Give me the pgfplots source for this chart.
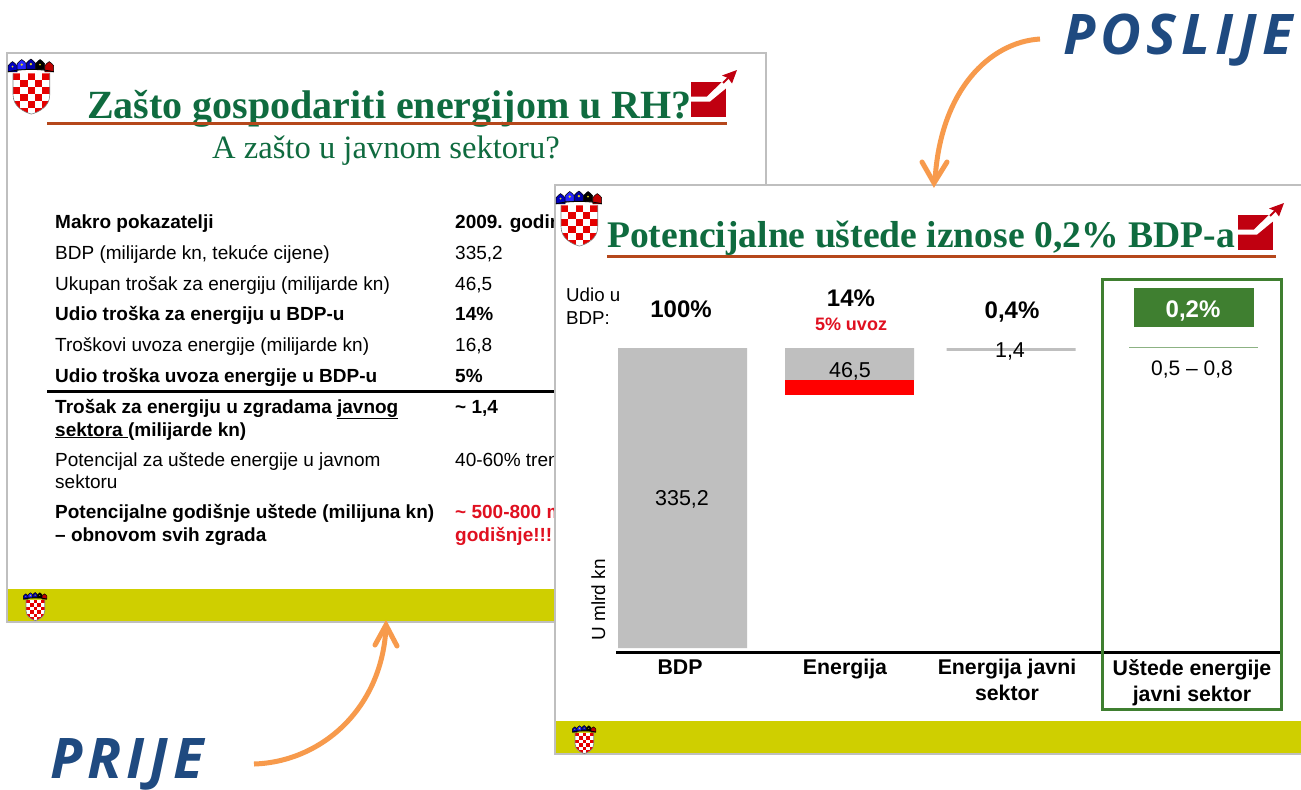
\documentclass[border=0pt]{standalone}
\usepackage{fontspec}
\setmainfont{Liberation Sans}
\newfontfamily\seriffam{Liberation Serif}
\newfontfamily\handfam[LetterSpace=9]{Open Sans}
\usepackage{pgfplots}
\pgfplotsset{compat=1.18}
\definecolor{slidegray}{HTML}{BFBFBF}
\definecolor{footer}{HTML}{CFCF00}
\definecolor{ttlgreen}{HTML}{0F6B3F}
\definecolor{rulecol}{HTML}{B5471B}
\definecolor{arrowred}{HTML}{C00010}
\definecolor{boxgreen}{HTML}{3F7F30}
\definecolor{barred}{HTML}{FF0000}
\definecolor{txtred}{HTML}{E01020}
\definecolor{orangearrow}{HTML}{F79A4C}
\definecolor{handblue}{HTML}{1F4A80}
\newcommand{\fs}[1]{\fontsize{#1}{#1}\selectfont}
\newcommand{\crownpiece}[3]{\filldraw[fill=#3,draw=black,line width=.5pt] ({#1-4.4},#2) -- ({#1-4.4},{#2-6}) -- ({#1-2},{#2-8.5}) -- (#1,{#2-10}) -- ({#1+2},{#2-8.5}) -- ({#1+4.4},{#2-6}) -- ({#1+4.4},#2) -- cycle;}
\tikzset{
  coat/.pic={
    \begin{scope}
      \clip (2,15) -- (38,15) -- (38,36) .. controls (38,48) and (27,53) .. (20,55) .. controls (13,53) and (2,48) .. (2,36) -- cycle;
      \fill[white] (0,14) rectangle (40,56);
      \foreach \i in {0,...,4}{\foreach \j in {0,...,5}{
        \pgfmathtruncatemacro{\pp}{mod(\i+\j,2)}
        \ifnum\pp=0 \fill[red!90!black] ({2+\i*7.2},{15+\j*6.8}) rectangle ++(7.2,6.8);\fi
      }}
    \end{scope}
    \draw[gray,line width=.6pt] (2,15) -- (2,36) .. controls (2,48) and (13,53) .. (20,55) .. controls (27,53) and (38,48) .. (38,36) -- (38,15);
    \crownpiece{1.5}{13.5}{blue!75!black}
    \crownpiece{10.5}{11.5}{blue!85!white}
    \crownpiece{19.5}{11}{blue!65!black}
    \crownpiece{28.5}{11.5}{black}
    \crownpiece{37.5}{13.5}{red!75!black}
    \fill[yellow!85!black] (10.5,6.5) circle (1.3) (19.5,6) circle (1.3) (1.5,8.5) circle (1) (28.5,6.5) circle (1);
    \draw[black,line width=.8pt] (-3,13.5) .. controls (10,10.5) and (30,10.5) .. (42,13.5);
  },
  logo/.pic={
    \fill[arrowred] (1,12) rectangle (36,47);
    \fill[white] (1,26.5) -- (17,26.5) -- (33,11) -- (37,11) -- (37,17.5) -- (20,31.5) -- (1,31.5) -- cycle;
    \draw[arrowred,line width=2pt] (33,13) -- (40,6);
    \fill[arrowred] (47,0) -- (42,13.5) -- (38,8) -- (32,5.5) -- cycle;
  },
  t/.style={anchor=base west,inner sep=0pt,text=black},
  c/.style={anchor=base,inner sep=0pt,text=black}
}
\begin{document}
\begin{tikzpicture}
\begin{scope}[x=1pt,y=-1pt]
\useasboundingbox (0,0) rectangle (1301,781);
\fill[white] (0,0) rectangle (1301,781);
% ---- left slide ----
\fill[white] (7,53) rectangle (766,622);
\fill[footer] (7,589) rectangle (766,622);
\draw[slidegray,line width=2pt] (7,53) rectangle (766,622);
\pic[scale=1.02] at (11,58) {coat};
\pic[scale=.52] at (25,592) {coat};
\node[t,text=ttlgreen] at (87,118) {\seriffam\bfseries\fs{40}Zašto gospodariti energijom u RH?};
\fill[rulecol] (47,122) rectangle (727,125);
\pic at (690,70) {logo};
\node[c,text=ttlgreen] at (386,158) {\seriffam\fs{32.6}A zašto u javnom sektoru?};
\begin{scope}[every node/.append style={font=\fs{19}}]
\node[t] at (55,228) {\bfseries Makro pokazatelji};
\node[t] at (455,228) {\bfseries 2009. godina};
\node[t] at (55,259) {BDP (milijarde kn, tekuće cijene)};
\node[t] at (455,259) {335,2};
\node[t] at (55,290) {Ukupan trošak za energiju (milijarde kn)};
\node[t] at (455,290) {46,5};
\node[t] at (55,320) {\bfseries Udio troška za energiju u BDP-u};
\node[t] at (455,320) {\bfseries 14\%};
\node[t] at (55,351) {Troškovi uvoza energije (milijarde kn)};
\node[t] at (455,351) {16,8};
\node[t] at (55,382) {\bfseries Udio troška uvoza energije u BDP-u};
\node[t] at (455,382) {\bfseries 5\%};
\node[t] at (55,413) {\bfseries Trošak za energiju u zgradama \underline{javnog}};
\node[t] at (55,436) {\bfseries \underline{sektora }(milijarde kn)};
\node[t] at (455,413) {\bfseries \textasciitilde{} 1,4};
\node[t] at (55,466) {Potencijal za uštede energije u javnom};
\node[t] at (55,488) {sektoru};
\node[t] at (455,466) {40-60\% trenutne};
\node[t] at (55,518) {\bfseries Potencijalne godišnje uštede (milijuna kn)};
\node[t] at (55,541) {\bfseries – obnovom svih zgrada};
\node[t,text=txtred] at (455,518) {\bfseries \textasciitilde{} 500-800 mil. kn};
\node[t,text=txtred] at (455,541) {\bfseries godišnje!!!};
\end{scope}
\fill[black] (47,389.5) rectangle (560,393);
% ---- right slide ----
\fill[white] (555,185) rectangle (1301,754);
\fill[footer] (555,721) rectangle (1301,754);
\draw[slidegray,line width=2pt] (1301,185) -- (555,185) -- (555,754) -- (1301,754);
\pic[scale=1.02] at (559,190) {coat};
\pic[scale=.52] at (574,725) {coat};
\node[t,text=ttlgreen] at (607,247) {\seriffam\bfseries\fs{37.6}Potencijalne uštede iznose 0,2\% BDP-a};
\fill[rulecol] (607,255) rectangle (1276,258);
\pic at (1237,203) {logo};
\end{scope}
% ---- chart ----
\begin{axis}[
  at={(616pt,-652pt)}, anchor=south west,
  x=1pt, y=0.895pt,
  xmin=616, xmax=1280, ymin=-4.47, ymax=340,
  ybar stacked, bar width=129,
  axis x line=bottom, axis y line=none,
  axis line style={-,line width=3pt,black},
  xtick={680,845,1007,1192},
  xticklabels={BDP,Energija,{Energija javni\\sektor},{Uštede energije\\javni sektor}},
  x tick label style={align=center,font=\bfseries\fontsize{21.3}{26}\selectfont,yshift=-4pt},
  major tick length=0pt,
  clip=false,
]
\addplot[draw=none,fill=none] coordinates {(682.5,0) (849.5,282.7) (1011,331.9) (1193,335.0)};
\addplot[draw=none,fill=barred] coordinates {(682.5,0) (849.5,16.8) (1011,0) (1193,0)};
\addplot[draw=none,fill=slidegray] coordinates {(682.5,335.2) (849.5,35.7) (1011,3.3) (1193,0)};
\addplot[draw=none,fill=boxgreen!60!white] coordinates {(682.5,0) (849.5,0) (1011,0) (1193,1.5)};
\end{axis}
\begin{scope}[x=1pt,y=-1pt]
\node[c] at (682,505) {\fs{21.5}335,2};
\node[c] at (850,377) {\fs{21.5}46,5};
\node[c] at (1010,357) {\fs{21.5}1,4};
\node[c] at (1192,375) {\fs{21}0,5 – 0,8};
\node[t] at (566,301) {\fs{18.7}Udio u};
\node[t] at (566,324) {\fs{18.7}BDP:};
\node[c] at (681,317) {\bfseries\fs{24}100\%};
\node[c] at (851,306) {\bfseries\fs{24}14\%};
\node[c,text=txtred] at (851,330) {\bfseries\fs{18}5\% uvoz};
\node[c] at (1012,318) {\bfseries\fs{24}0,4\%};
\fill[boxgreen] (1134,288) rectangle (1254,327);
\node[c,text=white] at (1193,317) {\bfseries\fs{24}0,2\%};
\draw[boxgreen,line width=3pt] (1102,279) rectangle (1281,709);
\node[rotate=90,anchor=base,inner sep=0pt] at (605,600) {\fs{19}U mlrd kn};
% ---- callouts ----
\draw[orangearrow,line width=5pt] (1040,39) .. controls (990,42) and (940,90) .. (935,181);
\draw[orangearrow,line width=5pt,line cap=round,line join=miter] (922,162) -- (934,183) -- (947,162);
\draw[orangearrow,line width=5pt] (254,764) .. controls (320,762) and (382,710) .. (386,627);
\draw[orangearrow,line width=5pt,line cap=round,line join=miter] (375,645) -- (386,625) -- (397,646);
\node[t,text=handblue] at (1063,54) {\handfam\bfseries\itshape\fs{56}POSLIJE};
\node[t,text=handblue] at (50,778) {\handfam\bfseries\itshape\fs{56}PRIJE};
\end{scope}
\end{tikzpicture}
\end{document}
